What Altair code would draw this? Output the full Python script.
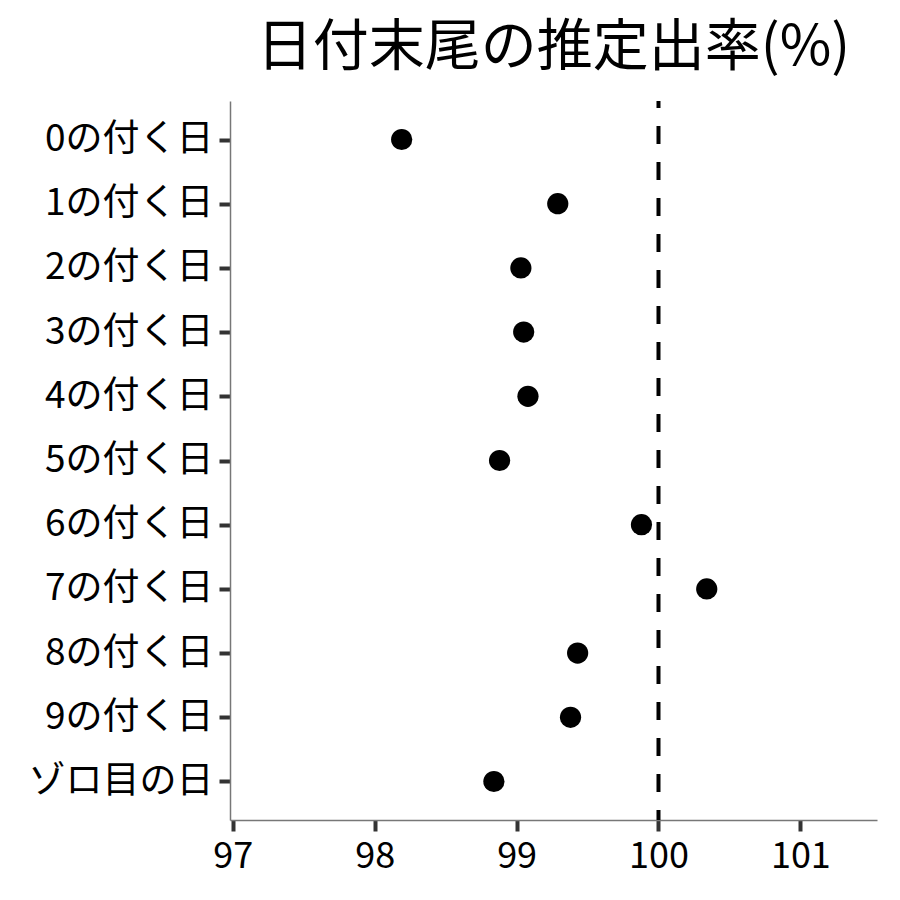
import altair as alt
import pandas as pd

categories = ["0の付く日", "1の付く日", "2の付く日", "3の付く日", "4の付く日",
              "5の付く日", "6の付く日", "7の付く日", "8の付く日", "9の付く日", "ゾロ目の日"]
rates = [98.19, 99.29, 99.03, 99.05, 99.08, 98.88, 99.88, 100.34, 99.43, 99.38, 98.84]
ref_value = [100]
x_ticks = [97, 98, 99, 100, 101]
title_text = "日付末尾の推定出率(%)"

FONT = "Noto Sans CJK JP"

df = pd.DataFrame({"category": categories, "rate": rates})
ref = pd.DataFrame({"x": ref_value})

xscale = alt.Scale(domain=[96.98, 101.54], nice=False, zero=False)

x_axis = alt.Axis(values=x_ticks, title=None, grid=False, labelFont=FONT, labelFontSize=36,
                  labelColor="black", labelPadding=8, tickSize=11, tickWidth=4, tickColor="#333333",
                  domainColor="#777777", domainWidth=1.5, labelFlush=False, labelOverlap=False)
y_axis = alt.Axis(title=None, grid=False, labelFont=FONT, labelFontSize=37, labelColor="black",
                  labelPadding=6, tickSize=11, tickWidth=4, tickColor="#333333",
                  domainColor="#777777", domainWidth=1.5, labelLimit=400)

points = alt.Chart(df).mark_circle(size=450, color="black", opacity=1).encode(
    x=alt.X("rate:Q", scale=xscale, axis=x_axis),
    y=alt.Y("category:N", sort=categories, scale=alt.Scale(padding=0.6), axis=y_axis),
)

rule = alt.Chart(ref).mark_rule(strokeDash=[18, 18], strokeDashOffset=11, strokeWidth=4,
                                color="black").encode(
    x=alt.X("x:Q", scale=xscale, axis=x_axis)
)

chart = alt.layer(rule, points).properties(
    width=647,
    height=719,
    title=alt.Title(title_text, font=FONT, fontSize=56, fontWeight="normal", color="black",
                    anchor="middle", offset=22),
    autosize=alt.AutoSizeParams(type="none"),
    padding={"left": 222, "top": 93, "right": 15, "bottom": 72},
).configure_view(stroke=None)

chart.save("out.html", embed_options={"renderer": "svg", "actions": False})
